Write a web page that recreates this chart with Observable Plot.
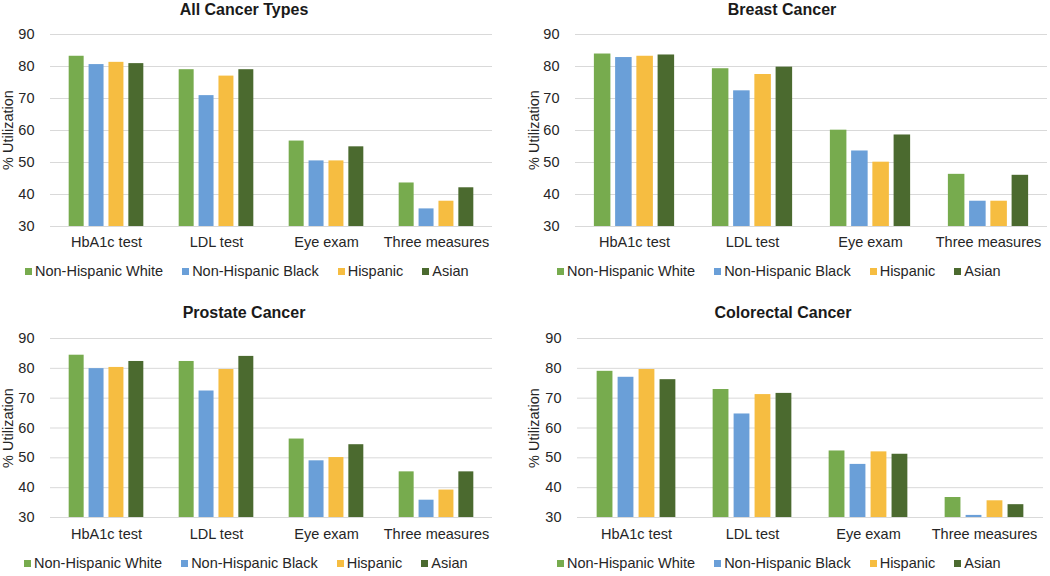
<!DOCTYPE html>
<html>
<head>
<meta charset="utf-8">
<script src="https://cdn.jsdelivr.net/npm/d3@7"></script>
<script src="https://cdn.jsdelivr.net/npm/@observablehq/plot@0.6"></script>
<style>
  html, body { margin: 0; padding: 0; background: #fff; }
  body { width: 1050px; height: 576px; position: relative; overflow: hidden;
         font-family: "Liberation Sans", Arial, Helvetica, sans-serif; color: #262626; }
  .panel { position: absolute; width: 525px; height: 288px; }
  .title { position: absolute; width: 300px; text-align: center; font-weight: bold;
           font-size: 16px; line-height: 18px; color: #1a1a1a; }
  .ylabel { position: absolute; width: 120px; text-align: center; font-size: 14.5px; line-height: 16px;
            transform: rotate(-90deg); transform-origin: center center; color: #262626; }
  .chart { position: absolute; left: 0; }
  .legend { position: absolute; display: flex; align-items: center; font-size: 14.5px;
            line-height: 18px; white-space: nowrap; color: #262626; }
  .legend .item { display: flex; align-items: center; margin-right: 19px; }
  .legend .sw { width: 7px; height: 7px; margin-right: 3px; display: inline-block; }
</style>
</head>
<body>
<script>
// ---- data ----
const measures = ["HbA1c test", "LDL test", "Eye exam", "Three measures"];
const races = ["Non-Hispanic White", "Non-Hispanic Black", "Hispanic", "Asian"];
const raceColors = ["#77ab4e", "#6a9fd8", "#f6bd41", "#4b6a2f"];
const yTicks = [30, 40, 50, 60, 70, 80, 90];
const yLabel = "% Utilization";
const titles = ["All Cancer Types", "Breast Cancer", "Prostate Cancer", "Colorectal Cancer"];
// rows: races (White, Black, Hispanic, Asian); columns: measures
const allCancerTypes = [[83.2, 79.0, 56.7, 43.6], [80.6, 70.9, 50.5, 35.5], [81.3, 77.0, 50.5, 37.9], [80.9, 79.0, 54.9, 42.1]];
const breastCancer = [[83.9, 79.3, 60.1, 46.3], [82.8, 72.4, 53.6, 37.9], [83.2, 77.5, 50.1, 37.9], [83.6, 79.8, 58.6, 46.0]];
const prostateCancer = [[84.4, 82.3, 56.3, 45.3], [79.9, 72.4, 49.0, 35.8], [80.3, 79.6, 50.1, 39.2], [82.3, 84.0, 54.4, 45.3]];
const colorectalCancer = [[79.0, 72.9, 52.3, 36.7], [77.0, 64.7, 47.8, 30.7], [79.6, 71.2, 52.0, 35.6], [76.2, 71.6, 51.2, 34.3]];

// ---- layout ----
const layouts = [
  {values: allCancerTypes, left: 0, top: 0, titleX: 244, titleY: 10, svgTop: 20, mt: 14, plotBottom: 226, ml: 50, mr: 33, legendLeft: 25, legendY: 271, ylabX: 8, tp: 10},
  {values: breastCancer, left: 525, top: 0, titleX: 257, titleY: 10, svgTop: 20, mt: 14, plotBottom: 226, ml: 50, mr: 3, legendLeft: 32, legendY: 271, ylabX: 9, tp: 10},
  {values: prostateCancer, left: 0, top: 288, titleX: 244, titleY: 25, svgTop: 36, mt: 14, plotBottom: 229, ml: 50, mr: 33, legendLeft: 24, legendY: 275, ylabX: 8, tp: 11},
  {values: colorectalCancer, left: 525, top: 288, titleX: 258, titleY: 25, svgTop: 36, mt: 14, plotBottom: 229, ml: 52, mr: 7, legendLeft: 32, legendY: 275, ylabX: 9, tp: 11}
];

layouts.forEach((L, p) => {
  const panel = document.createElement("div");
  panel.className = "panel";
  panel.style.left = L.left + "px";
  panel.style.top = L.top + "px";
  document.body.appendChild(panel);

  const t = document.createElement("div");
  t.className = "title";
  t.textContent = titles[p];
  t.style.left = (L.titleX - 150) + "px";
  t.style.top = (L.titleY - 9) + "px";
  panel.appendChild(t);

  const rows = [];
  races.forEach((r, i) => measures.forEach((m, j) => rows.push({race: r, ri: i, measure: m, value: L.values[i][j]})));

  const width = 525;
  const mb = 30;
  const height = L.plotBottom - L.svgTop + mb;
  const step = (width - L.ml - L.mr) / measures.length;

  const barMarks = races.map((r, i) => Plot.barY(rows.filter(d => d.ri === i), {
    x: "measure", y: "value", fill: raceColors[i], clip: true,
    insetLeft: step * (0.16 + 0.18 * i),
    insetRight: step * (0.70 - 0.18 * i)
  }));

  const chart = Plot.plot({
    width, height,
    marginTop: L.mt, marginBottom: mb, marginLeft: L.ml, marginRight: L.mr,
    style: {fontFamily: "'Liberation Sans', Arial, sans-serif", fontSize: "14.5px", color: "#262626", background: "transparent"},
    x: {domain: measures, padding: 0, label: null, tickSize: 0, tickPadding: L.tp},
    y: {domain: [30, 90], ticks: yTicks, label: null, tickSize: 0, tickPadding: 16},
    marks: [
      Plot.ruleY(yTicks, {stroke: "#d9d9d9", strokeWidth: 1}),
      ...barMarks
    ]
  });
  chart.classList.add("chart");
  chart.style.top = L.svgTop + "px";
  panel.appendChild(chart);

  const yl = document.createElement("div");
  yl.className = "ylabel";
  yl.textContent = yLabel;
  const plotTop = L.svgTop + L.mt;
  const cy = (plotTop + L.plotBottom) / 2;
  yl.style.left = (L.ylabX - 60) + "px";
  yl.style.top = (cy - 8) + "px";
  panel.appendChild(yl);

  const lg = document.createElement("div");
  lg.className = "legend";
  lg.style.left = L.legendLeft + "px";
  lg.style.top = (L.legendY - 9) + "px";
  races.forEach((r, i) => {
    const it = document.createElement("span");
    it.className = "item";
    const sw = document.createElement("span");
    sw.className = "sw";
    sw.style.background = raceColors[i];
    it.appendChild(sw);
    it.appendChild(document.createTextNode(r));
    lg.appendChild(it);
  });
  panel.appendChild(lg);
});
</script>
</body>
</html>
